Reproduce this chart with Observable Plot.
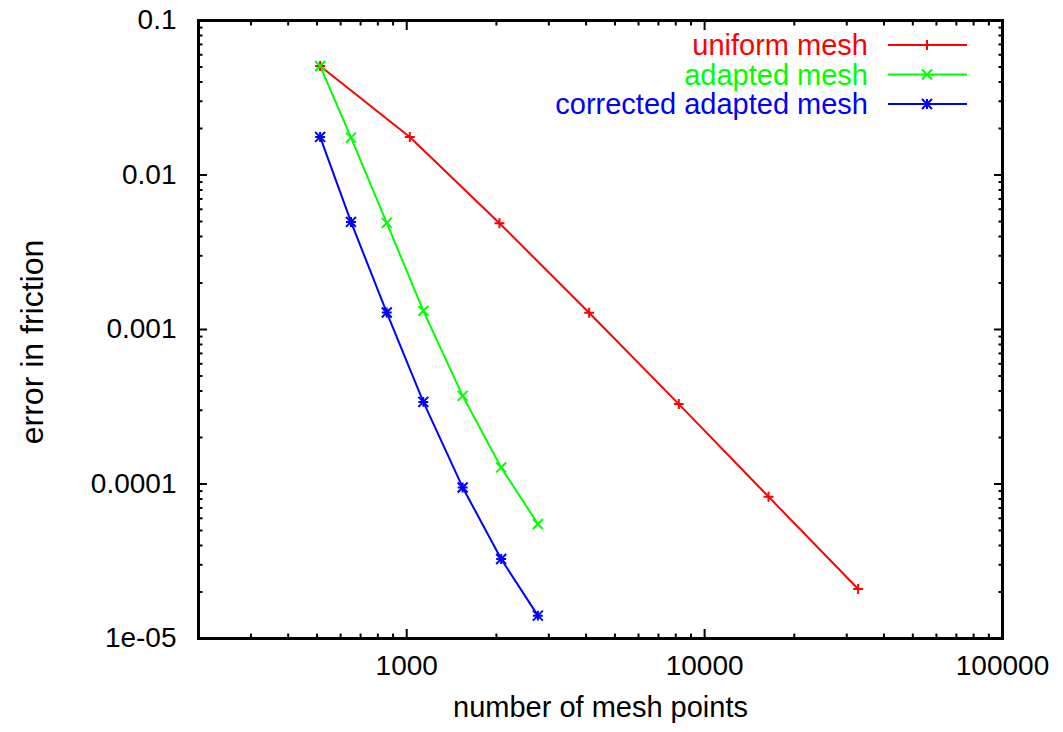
<!DOCTYPE html>
<html>
<head>
<meta charset="utf-8">
<script src="https://cdn.jsdelivr.net/npm/d3@7"></script>
<script src="https://cdn.jsdelivr.net/npm/@observablehq/plot@0.6"></script>
<style>
  html, body { margin: 0; padding: 0; background: #fff; }
  #chart svg { font-family: "Liberation Sans", Arial, Helvetica, sans-serif; }
</style>
</head>
<body>
<div id="chart"></div>
<script>
// Convergence of the friction error against mesh size (log–log)
const seriesNames = ["uniform mesh", "adapted mesh", "corrected adapted mesh"];
const seriesColors = ["#ff0000", "#00ff00", "#0000ff"];

const uniformPoints = [512, 1024, 2048, 4096, 8192, 16384, 32768];
const uniformError = [0.0508, 0.01764, 0.004878, 0.001282, 3.29e-4, 8.28e-5, 2.09e-5];

const adaptedPoints = [512, 650, 857, 1137, 1541, 2075, 2756];
const adaptedError = [0.0508, 0.01746, 0.0049, 0.001321, 3.72e-4, 1.28e-4, 5.51e-5];

const correctedPoints = [512, 650, 857, 1137, 1541, 2075, 2756];
const correctedError = [0.01764, 0.00497, 0.001288, 3.4e-4, 9.5e-5, 3.27e-5, 1.406e-5];

const xTicks = [1000, 10000, 100000];
const xTickLabels = ["1000", "10000", "100000"];
const yTicks = [1e-5, 1e-4, 1e-3, 1e-2, 1e-1];
const yTickLabels = ["1e-05", "0.0001", "0.001", "0.01", "0.1"];

const xLabel = "number of mesh points";
const yLabel = "error in friction";

// minor ticks: 2..9 within each decade
function minorTicks(lo, hi) {
  const out = [];
  for (let d = Math.floor(Math.log10(lo)); d < Math.ceil(Math.log10(hi)); d++) {
    for (let m = 2; m <= 9; m++) {
      const v = m * Math.pow(10, d);
      if (v >= lo && v <= hi) out.push(v);
    }
  }
  return out;
}
const xMinor = minorTicks(200, 100000);
const yMinor = minorTicks(1e-5, 0.1);

const rows = (xs, ys, k) => xs.map((x, i) => ({x, y: ys[i], series: seriesNames[k]}));
const uniform = rows(uniformPoints, uniformError, 0);
const adapted = rows(adaptedPoints, adaptedError, 1);
const corrected = rows(correctedPoints, correctedError, 2);

const fontSize = 28;
const labelSize = 29;
const xFmt = d => xTickLabels[xTicks.indexOf(d)] ?? "";
const yFmt = d => yTickLabels[yTicks.findIndex(t => Math.abs(t - d) / t < 1e-9)] ?? "";

const tickStyle = {stroke: "black", strokeWidth: 2, fill: "none", label: null};

const plot = Plot.plot({
  width: 1063,
  height: 732,
  marginLeft: 198,
  marginRight: 61,
  marginTop: 20,
  marginBottom: 94,
  style: {fontFamily: "'Liberation Sans', Arial, Helvetica, sans-serif", background: "#fff"},
  x: {type: "log", domain: [200, 100000]},
  y: {type: "log", domain: [1e-5, 0.1]},
  marks: [
    // inward major and minor ticks on all four sides
    Plot.axisX(xTicks, {...tickStyle, anchor: "bottom", tickSize: -9}),
    Plot.axisX(xTicks, {...tickStyle, anchor: "top", tickSize: -9}),
    Plot.axisX(xMinor, {...tickStyle, anchor: "bottom", tickSize: -4.5}),
    Plot.axisX(xMinor, {...tickStyle, anchor: "top", tickSize: -4.5}),
    Plot.axisY(yTicks, {...tickStyle, anchor: "left", tickSize: -9}),
    Plot.axisY(yTicks, {...tickStyle, anchor: "right", tickSize: -9}),
    Plot.axisY(yMinor, {...tickStyle, anchor: "left", tickSize: -4.5}),
    Plot.axisY(yMinor, {...tickStyle, anchor: "right", tickSize: -4.5}),
    // tick labels
    Plot.axisX(xTicks, {anchor: "bottom", tickSize: 0, tickPadding: 17, tickFormat: xFmt, fontSize, fill: "black", label: null}),
    Plot.axisY(yTicks, {anchor: "left", tickSize: 0, tickPadding: 22, tickFormat: yFmt, fontSize, fill: "black", label: null}),
    // x axis title
    Plot.text([xLabel], {frameAnchor: "bottom", dy: 78, text: d => d, fontSize: labelSize, fill: "black"}),
    // series
    Plot.line(uniform, {x: "x", y: "y", stroke: seriesColors[0], strokeWidth: 2}),
    Plot.line(adapted, {x: "x", y: "y", stroke: seriesColors[1], strokeWidth: 2}),
    Plot.line(corrected, {x: "x", y: "y", stroke: seriesColors[2], strokeWidth: 2}),
    Plot.dot(uniform, {x: "x", y: "y", symbol: "plus", r: 3.3, stroke: seriesColors[0], strokeWidth: 2}),
    Plot.dot(adapted, {x: "x", y: "y", symbol: "times", r: 4.6, stroke: seriesColors[1], strokeWidth: 2}),
    Plot.dot(corrected, {x: "x", y: "y", symbol: "plus", r: 3.3, stroke: seriesColors[2], strokeWidth: 2}),
    Plot.dot(corrected, {x: "x", y: "y", symbol: "times", r: 4.6, stroke: seriesColors[2], strokeWidth: 2}),
    Plot.frame({stroke: "black", strokeWidth: 3})
  ]
});

const svg = d3.select(plot);

// y axis title, rotated beside the tick labels
svg.append("text")
  .attr("transform", "translate(32,342) rotate(-90)")
  .attr("text-anchor", "middle").attr("dy", "0.35em")
  .attr("font-size", 32).attr("fill", "black")
  .text(yLabel);

// key in the upper right corner of the frame
const key = svg.append("g").attr("font-size", labelSize);
const keySymbols = [["plus"], ["times"], ["plus", "times"]];
const symbolTypes = {plus: d3.symbolPlus, times: d3.symbolTimes};
const symbolSizes = {plus: 34.6, times: 67};
seriesNames.forEach((name, i) => {
  const cy = 45 + i * 29.5;
  key.append("text")
    .attr("x", 868).attr("y", cy).attr("dy", "0.35em")
    .attr("text-anchor", "end").attr("fill", seriesColors[i])
    .text(name);
  key.append("line")
    .attr("x1", 888).attr("x2", 967).attr("y1", cy).attr("y2", cy)
    .attr("stroke", seriesColors[i]).attr("stroke-width", 2);
  keySymbols[i].forEach(s => {
    key.append("path")
      .attr("transform", `translate(927,${cy})`)
      .attr("d", d3.symbol(symbolTypes[s], symbolSizes[s])())
      .attr("fill", "none").attr("stroke", seriesColors[i]).attr("stroke-width", 2);
  });
});

document.getElementById("chart").appendChild(plot);
</script>
</body>
</html>
